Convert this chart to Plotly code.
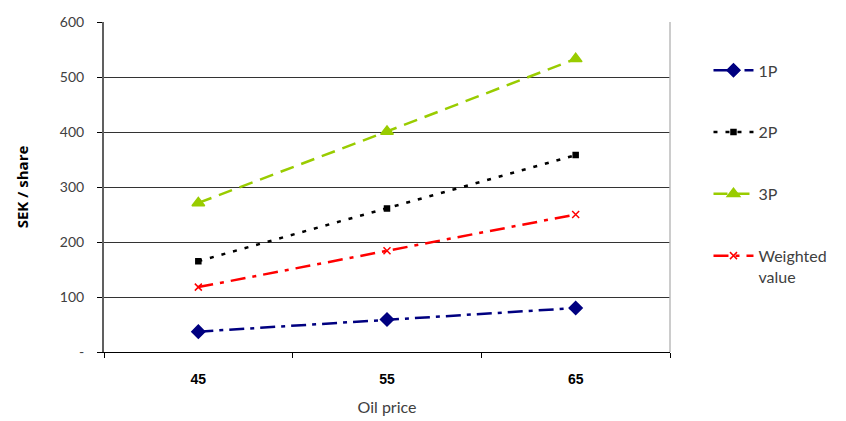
import plotly.graph_objects as go

oil_price = ["45", "55", "65"]
val_1p = [37, 59, 80]
val_2p = [165, 261, 358]
val_3p = [271, 401, 533]
val_weighted = [118, 184, 250]

series = [
    ("1P", val_1p, "#000080", "15px,6px,4px,6px", "diamond", 10),
    ("2P", val_2p, "#000000", "4px,8px", "square", 5),
    ("3P", val_3p, "#99CC00", "14px,8px", "triangle-up", 11),
    ("Weighted<br>value", val_weighted, "#FF0000", "15px,7px,4px,7px", "x-thin", 7),
]

fig = go.Figure()
for i, (name, vals, color, dash, symbol, size) in enumerate(series):
    fig.add_trace(go.Scatter(
        x=oil_price, y=vals, name=name, mode="lines+markers",
        line=dict(color=color, width=2.5, dash=dash),
        marker=dict(symbol=symbol, size=size, color=color,
                    line=dict(color=color, width=1.5)),
        legendgroup=str(i),
    ))

label_font = "Lato, 'Open Sans', sans-serif"

fig.update_layout(
    width=846, height=421,
    margin=dict(l=104, r=176, t=22, b=69),
    paper_bgcolor="white", plot_bgcolor="white",
    showlegend=True,
    legend=dict(
        x=1.068, y=0.905, xanchor="left", yanchor="top",
        font=dict(family=label_font, size=16, color="#404040"),
        tracegroupgap=38, valign="top", itemwidth=40,
        bgcolor="rgba(0,0,0,0)",
    ),
    xaxis=dict(
        type="category", tickson="boundaries", range=[-0.5, 2.5],
        automargin=False,
        ticks="outside", ticklen=5, tickcolor="#000000",
        showline=True, linecolor="#000000", linewidth=1,
        showgrid=False, mirror=False,
        tickfont=dict(family="'Liberation Sans', Arial, sans-serif", size=14, color="#000000"),
        tickprefix="<b>", ticksuffix="</b>",
        ticklabelstandoff=14,
        title=dict(text="Oil price", standoff=16,
                   font=dict(family=label_font, size=16, color="#404040")),
    ),
    yaxis=dict(
        range=[0, 600], tickmode="array",
        automargin=False,
        tickvals=[0, 100, 200, 300, 400, 500, 600],
        ticktext=["-", "100", "200", "300", "400", "500", "600"],
        ticks="outside", ticklen=5, tickcolor="#000000",
        showline=True, linecolor="#606060", linewidth=2,
        showgrid=True, gridcolor="#333333", gridwidth=1,
        zeroline=False,
        tickfont=dict(family=label_font, size=14, color="#404040"),
        ticklabelstandoff=10,
        title=dict(text="<b>SEK / share</b>", standoff=28,
                   font=dict(family="'Open Sans', Lato, sans-serif", size=15, color="#000000")),
    ),
)

# light frame on the right edge of the plot area
fig.add_shape(type="line", xref="paper", yref="paper", x0=1, x1=1, y0=0, y1=1,
              line=dict(color="#BBBBBB", width=1.5))

fig.write_html("out.html")
